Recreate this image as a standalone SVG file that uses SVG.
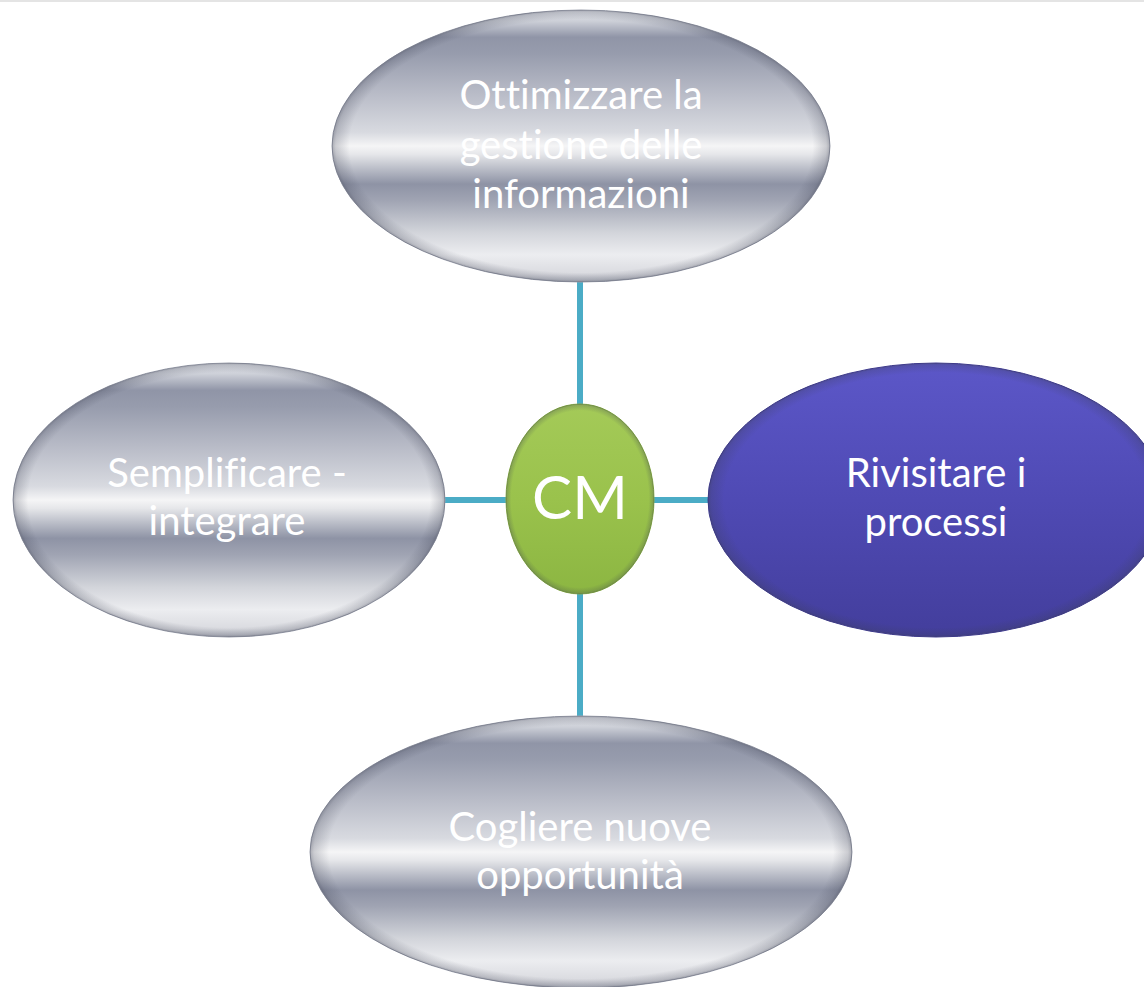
<svg xmlns="http://www.w3.org/2000/svg" width="1144" height="987" viewBox="0 0 1144 987">
<style>
.lbl{font-family:Lato,"Open Sans","Liberation Sans",sans-serif;font-size:40px;fill:#ffffff;text-anchor:middle;font-variant-ligatures:none}
.cm{font-family:Lato,"Open Sans","Liberation Sans",sans-serif;font-size:60px;fill:#ffffff;text-anchor:middle}
.conn{stroke:#4bacc6;stroke-width:6;fill:none}
.silver{fill:url(#silver);stroke:#9a9eab;stroke-width:1}
.rim{fill:url(#rim)}
</style>
<defs>
<linearGradient id="silver" x1="0" y1="0" x2="0" y2="1">
<stop offset="0" stop-color="#e2e4e9"/>
<stop offset="0.04" stop-color="#cdd0d8"/>
<stop offset="0.10" stop-color="#9095a7"/>
<stop offset="0.16" stop-color="#979cad"/>
<stop offset="0.30" stop-color="#b7bac6"/>
<stop offset="0.45" stop-color="#d8dae0"/>
<stop offset="0.50" stop-color="#f5f5f6"/>
<stop offset="0.53" stop-color="#e6e7ea"/>
<stop offset="0.58" stop-color="#bdc0ca"/>
<stop offset="0.64" stop-color="#8e93a5"/>
<stop offset="0.70" stop-color="#a0a4b3"/>
<stop offset="0.82" stop-color="#d3d5db"/>
<stop offset="0.90" stop-color="#ecedf0"/>
<stop offset="0.97" stop-color="#dadbe0"/>
<stop offset="1" stop-color="#bcbfc8"/>
</linearGradient>
<linearGradient id="purple" x1="0" y1="0" x2="0" y2="1">
<stop offset="0" stop-color="#5c57c8"/>
<stop offset="0.5" stop-color="#4f4ab4"/>
<stop offset="1" stop-color="#433e9c"/>
</linearGradient>
<linearGradient id="green" x1="0" y1="0" x2="0" y2="1">
<stop offset="0" stop-color="#a4ca58"/>
<stop offset="0.5" stop-color="#9ac24c"/>
<stop offset="1" stop-color="#8cb642"/>
</linearGradient>
<radialGradient id="rim" cx="0.5" cy="0.5" r="0.5">
<stop offset="0" stop-color="#3a3e50" stop-opacity="0"/>
<stop offset="0.93" stop-color="#3a3e50" stop-opacity="0"/>
<stop offset="0.985" stop-color="#3a3e50" stop-opacity="0.22"/>
<stop offset="1" stop-color="#3a3e50" stop-opacity="0.4"/>
</radialGradient>
</defs>
<rect x="0" y="0" width="1144" height="987" fill="#ffffff"/>
<rect x="0" y="0" width="1144" height="2" fill="#e4e4e4"/>
<g id="connectors">
<line class="conn" x1="580" y1="280" x2="580" y2="406"/>
<line class="conn" x1="580" y1="592" x2="580" y2="719"/>
<line class="conn" x1="440" y1="500" x2="508" y2="500"/>
<line class="conn" x1="652" y1="500" x2="711" y2="500"/>
</g>
<g id="node-top">
<ellipse class="silver" cx="581" cy="146" rx="249" ry="136"/>
<ellipse class="rim" cx="581" cy="146" rx="249" ry="136"/>
<text class="lbl" x="581" y="109">Ottimizzare la</text>
<text class="lbl" x="581" y="159">gestione delle</text>
<text class="lbl" x="581" y="208">informazioni</text>
</g>
<g id="node-left">
<ellipse class="silver" cx="229" cy="500" rx="216" ry="137"/>
<ellipse class="rim" cx="229" cy="500" rx="216" ry="137"/>
<text class="lbl" x="227" y="487">Semplificare -</text>
<text class="lbl" x="227" y="535">integrare</text>
</g>
<g id="node-right">
<ellipse cx="936" cy="500" rx="228" ry="137" fill="url(#purple)" stroke="#3f3a94" stroke-width="1"/>
<ellipse class="rim" cx="936" cy="500" rx="228" ry="137"/>
<text class="lbl" x="936" y="487">Rivisitare i</text>
<text class="lbl" x="936" y="536">processi</text>
</g>
<g id="node-bottom">
<ellipse class="silver" cx="581" cy="852" rx="271" ry="136"/>
<ellipse class="rim" cx="581" cy="852" rx="271" ry="136"/>
<text class="lbl" x="580" y="841">Cogliere nuove</text>
<text class="lbl" x="580" y="889">opportunità</text>
</g>
<g id="node-center">
<ellipse cx="580" cy="499" rx="74" ry="95" fill="url(#green)" stroke="#86ad40" stroke-width="1"/>
<ellipse class="rim" cx="580" cy="499" rx="74" ry="95"/>
<text class="cm" x="580" y="519">CM</text>
</g>
</svg>
